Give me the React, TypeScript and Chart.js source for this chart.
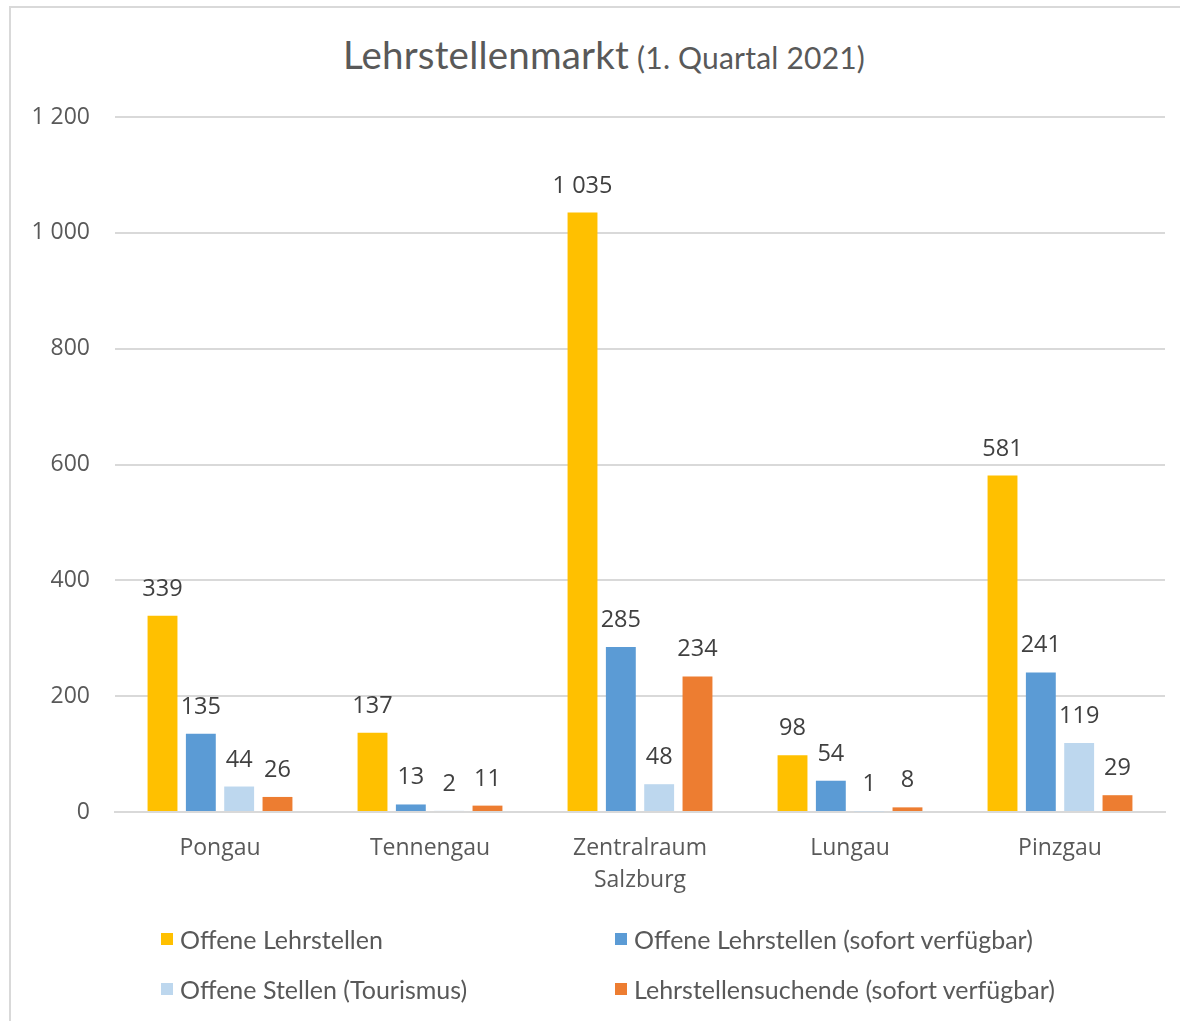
import React, { useEffect, useRef } from 'react';
import { Chart, registerables } from 'chart.js';

Chart.register(...registerables);

const categories: (string | string[])[] = ['Pongau', 'Tennengau', ['Zentralraum', 'Salzburg'], 'Lungau', 'Pinzgau'];
const seriesNames = [
  'Offene Lehrstellen',
  'Offene Lehrstellen (sofort verfügbar)',
  'Offene Stellen (Tourismus)',
  'Lehrstellensuchende (sofort verfügbar)',
];
const seriesColors = ['#FFC000', '#5B9BD5', '#BDD7EE', '#ED7D31'];
const offeneLehrstellen = [339, 137, 1035, 98, 581];
const offeneSofort = [135, 13, 285, 54, 241];
const offeneTourismus = [44, 2, 48, 1, 119];
const suchendeSofort = [26, 11, 234, 8, 29];
const seriesValues = [offeneLehrstellen, offeneSofort, offeneTourismus, suchendeSofort];
const yMin = 0;
const yMax = 1200;
const yStep = 200;
const titleMain = 'Lehrstellenmarkt';
const titleSub = '(1. Quartal 2021)';

const fmt = (n: number) => String(n).replace(/\B(?=(\d{3})+(?!\d))/g, ' ');

const valueLabels = {
  id: 'valueLabels',
  afterDatasetsDraw(chart: any) {
    const ctx = chart.ctx;
    ctx.save();
    ctx.font = '23.5px "Open Sans"';
    ctx.fillStyle = '#404040';
    ctx.textAlign = 'center';
    ctx.textBaseline = 'alphabetic';
    chart.data.datasets.forEach((ds: any, i: number) => {
      const meta = chart.getDatasetMeta(i);
      meta.data.forEach((bar: any, j: number) => {
        ctx.fillText(fmt(ds.data[j]), bar.x, bar.y - 20);
      });
    });
    ctx.restore();
  },
};

export default function App() {
  const canvasRef = useRef<HTMLCanvasElement | null>(null);

  useEffect(() => {
    if (!canvasRef.current) return;
    const chart = new Chart(canvasRef.current, {
      type: 'bar',
      data: {
        labels: categories,
        datasets: seriesValues.map((vals, i) => ({
          label: seriesNames[i],
          data: vals,
          backgroundColor: seriesColors[i],
          borderWidth: 0,
          categoryPercentage: 0.73,
          barPercentage: 0.78,
        })),
      },
      options: {
        responsive: false,
        animation: false,
        layout: { padding: { top: 117, left: 0, right: 15, bottom: 109 } },
        plugins: {
          legend: { display: false },
          title: { display: false },
          tooltip: { enabled: false },
        },
        scales: {
          x: {
            grid: { display: false, drawTicks: false },
            border: { display: true, color: '#d9d9d9', width: 2 },
            ticks: {
              color: '#595959',
              font: { family: '"Open Sans"', size: 23, lineHeight: 1.4 },
              padding: 20,
              maxRotation: 0,
              autoSkip: false,
            },
            afterFit: (s: any) => { s.height = 100; },
          },
          y: {
            min: yMin,
            max: yMax,
            grid: { color: '#d9d9d9', lineWidth: 2, drawTicks: false },
            border: { display: false },
            ticks: {
              stepSize: yStep,
              color: '#595959',
              font: { family: '"Open Sans"', size: 23 },
              padding: 25,
              callback: (v: any) => fmt(Number(v)),
            },
            afterFit: (s: any) => { s.width = 115; },
          },
        },
      },
      plugins: [valueLabels],
    });
    return () => chart.destroy();
  }, []);

  const legendPos = [
    { x: 161, y: 939 },
    { x: 615, y: 939 },
    { x: 161, y: 989 },
    { x: 615, y: 989 },
  ];

  return (
    <div style={{ position: 'fixed', left: 0, top: 0, width: 1180, height: 1021, overflow: 'hidden', background: '#fff' }}>
      <div style={{ position: 'absolute', left: 9, top: 6, right: 0, bottom: 0, borderTop: '2px solid #d9d9d9', borderLeft: '2px solid #d9d9d9' }} />
      <div
        style={{
          position: 'absolute',
          left: 604,
          top: 32,
          transform: 'translateX(-50%)',
          whiteSpace: 'nowrap',
          fontFamily: 'Lato, sans-serif',
          color: '#595959',
          lineHeight: '44px',
        }}
      >
        <span style={{ fontSize: 38.5, letterSpacing: 0.2 }}>{titleMain}</span>
        <span style={{ fontSize: 30, letterSpacing: 0.2, marginLeft: 8 }}>{titleSub}</span>
      </div>
      <canvas ref={canvasRef} width={1180} height={1021} style={{ position: 'absolute', left: 0, top: 0, display: 'block' }} />
      {seriesNames.map((name, i) => (
        <div
          key={name}
          style={{
            position: 'absolute',
            left: legendPos[i].x,
            top: legendPos[i].y - 15,
            height: 30,
            display: 'flex',
            alignItems: 'center',
            whiteSpace: 'nowrap',
            fontFamily: 'Lato, sans-serif',
            fontSize: 25,
            color: '#595959',
          }}
        >
          <span style={{ display: 'inline-block', width: 12, height: 12, background: seriesColors[i], marginRight: 7 }} />
          <span>{name}</span>
        </div>
      ))}
    </div>
  );
}
